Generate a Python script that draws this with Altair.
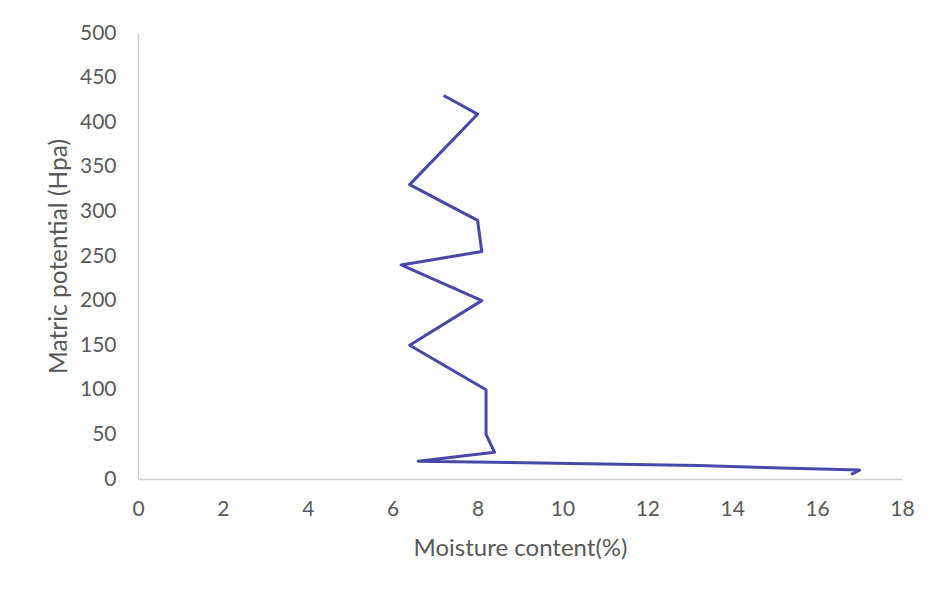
import altair as alt
import pandas as pd

moisture = [7.2, 8.0, 6.4, 8.0, 8.1, 6.2, 8.1, 6.4, 8.2, 8.2, 8.4, 6.6, 13.2, 17.0, 16.8]
potential = [430, 409, 330, 290, 255, 240, 200, 150, 100, 50, 30, 20, 15, 10, 5]
order = list(range(len(moisture)))

df = pd.DataFrame({"moisture": moisture, "potential": potential, "order": order})

FONT = "Lato"
GRAY = "#595959"

line = alt.Chart(df).mark_line(color="#4848A8", strokeWidth=3, strokeJoin="round").encode(
    x=alt.X("moisture:Q", title="Moisture content(%)",
            scale=alt.Scale(domain=[0, 18], nice=False, zero=True),
            axis=alt.Axis(values=list(range(0, 19, 2)), grid=False, ticks=False,
                          domainColor="#D0D0D0", domainWidth=1.5, labelFlush=False,
                          labelPadding=19, labelFontSize=21, labelColor=GRAY, labelFont=FONT,
                          titleFontSize=24, titleColor=GRAY, titleFont=FONT, titleFontWeight="normal",
                          titlePadding=17)),
    y=alt.Y("potential:Q", title="Matric potential (Hpa)",
            scale=alt.Scale(domain=[0, 500], nice=False),
            axis=alt.Axis(values=list(range(0, 501, 50)), grid=False, ticks=False,
                          domainColor="#D0D0D0", domainWidth=1.5, labelFlush=False,
                          labelPadding=22, labelFontSize=21, labelColor=GRAY, labelFont=FONT,
                          titleFontSize=24.5, titleColor=GRAY, titleFont=FONT, titleFontWeight="normal",
                          titlePadding=8)),
    order="order:Q",
)

chart = line.properties(
    width=764, height=446,
    autosize=alt.AutoSizeParams(type="none"),
    padding={"left": 130, "top": 25, "right": 22, "bottom": 100},
).configure_view(stroke=None)

chart.save("out.html", embed_options={"renderer": "svg", "actions": False})
